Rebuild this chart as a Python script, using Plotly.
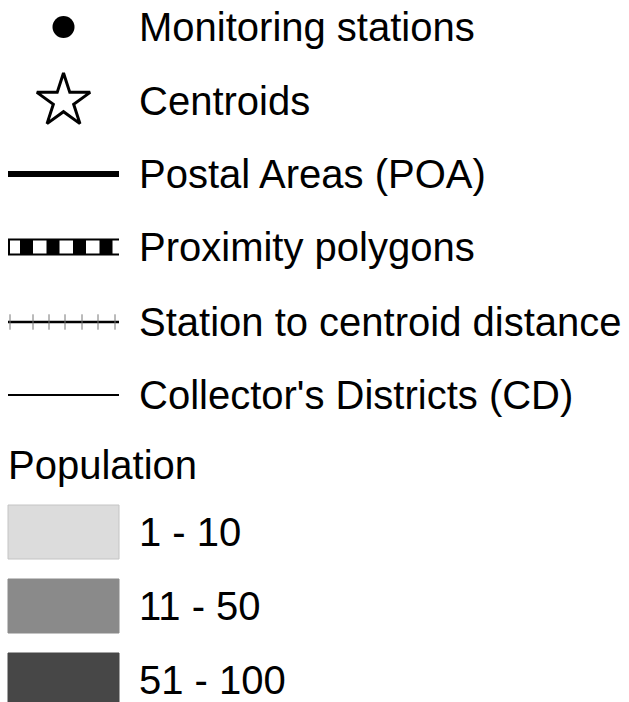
import plotly.graph_objects as go

# legend entries (top block: symbols and lines)
symbol_labels = [
    "Monitoring stations",
    "Centroids",
    "Postal Areas (POA)",
    "Proximity polygons",
    "Station to centroid distance",
    "Collector's Districts (CD)",
]
population_title = "Population"
population_classes = ["1 - 10", "11 - 50", "51 - 100"]
population_colors = ["#dcdcdc", "#8a8a8a", "#474747"]

W, H = 629, 702
FONT = "Liberation Sans, Arial, sans-serif"
FS = 40
ROW_Y = [27, 101, 174, 247, 322, 395]
POP_TITLE_Y = 465
POP_Y = [532, 606, 680]
X0, X1 = 8, 119
TEXT_X = 137

fig = go.Figure()

# monitoring station dot
fig.add_trace(go.Scatter(
    x=[(X0 + X1) / 2], y=[ROW_Y[0]], mode="markers",
    marker=dict(symbol="circle", size=22, color="black"),
))
# centroid star
fig.add_trace(go.Scatter(
    x=[(X0 + X1) / 2], y=[ROW_Y[1]], mode="markers",
    marker=dict(symbol="star-open", size=40, color="black", line=dict(width=3, color="black")),
))
# postal areas - thick line
fig.add_trace(go.Scatter(
    x=[X0, X1], y=[ROW_Y[2], ROW_Y[2]], mode="lines",
    line=dict(color="black", width=6),
))
# proximity polygons - rails plus dashed blocks
for dy in (-7.5, 7.5):
    fig.add_trace(go.Scatter(
        x=[X0, X1], y=[ROW_Y[3] + dy] * 2, mode="lines",
        line=dict(color="black", width=2),
    ))
fig.add_trace(go.Scatter(
    x=[20, 113], y=[ROW_Y[3]] * 2, mode="lines",
    line=dict(color="black", width=14, dash="13px,13.5px"),
))
fig.add_trace(go.Scatter(
    x=[X0 + 1, X0 + 1], y=[ROW_Y[3] - 7.5, ROW_Y[3] + 7.5], mode="lines",
    line=dict(color="black", width=2),
))
# station to centroid distance - line with ticks
tick_x = [10, 33, 49, 65, 82, 98, 115]
fig.add_trace(go.Scatter(
    x=[X0, X1], y=[ROW_Y[4]] * 2, mode="lines",
    line=dict(color="black", width=2.5),
))
fig.add_trace(go.Scatter(
    x=tick_x, y=[ROW_Y[4]] * len(tick_x), mode="markers",
    marker=dict(symbol="line-ns", size=11, color="#777777", line=dict(width=1, color="#777777")),
))
# collector's districts - thin line
fig.add_trace(go.Scatter(
    x=[X0, X1], y=[ROW_Y[5]] * 2, mode="lines",
    line=dict(color="black", width=2),
))

# population swatches
for yc, col in zip(POP_Y, population_colors):
    fig.add_shape(
        type="rect", x0=X0, x1=X1, y0=yc - 27, y1=yc + 27,
        fillcolor=col, line=dict(color="#c4c4c4" if col == "#dcdcdc" else col, width=1),
        layer="below",
    )

# texts
for yc, label in zip(ROW_Y, symbol_labels):
    fig.add_annotation(x=TEXT_X, y=yc, text=label, showarrow=False,
                       xanchor="left", yanchor="middle")
fig.add_annotation(x=6, y=POP_TITLE_Y, text=population_title, showarrow=False,
                   xanchor="left", yanchor="middle")
for yc, label in zip(POP_Y, population_classes):
    fig.add_annotation(x=TEXT_X, y=yc, text=label, showarrow=False,
                       xanchor="left", yanchor="middle")

fig.update_layout(
    width=W, height=H,
    margin=dict(l=0, r=0, t=0, b=0),
    paper_bgcolor="white", plot_bgcolor="white",
    showlegend=False,
    font=dict(family=FONT, size=FS, color="black"),
)
fig.update_xaxes(range=[0, W], visible=False, fixedrange=True)
fig.update_yaxes(range=[H, 0], visible=False, fixedrange=True)

fig.write_html(
    "out.html",
    config={"displayModeBar": False},
    post_script="document.body.style.margin='0';document.body.style.overflow='hidden';",
)
